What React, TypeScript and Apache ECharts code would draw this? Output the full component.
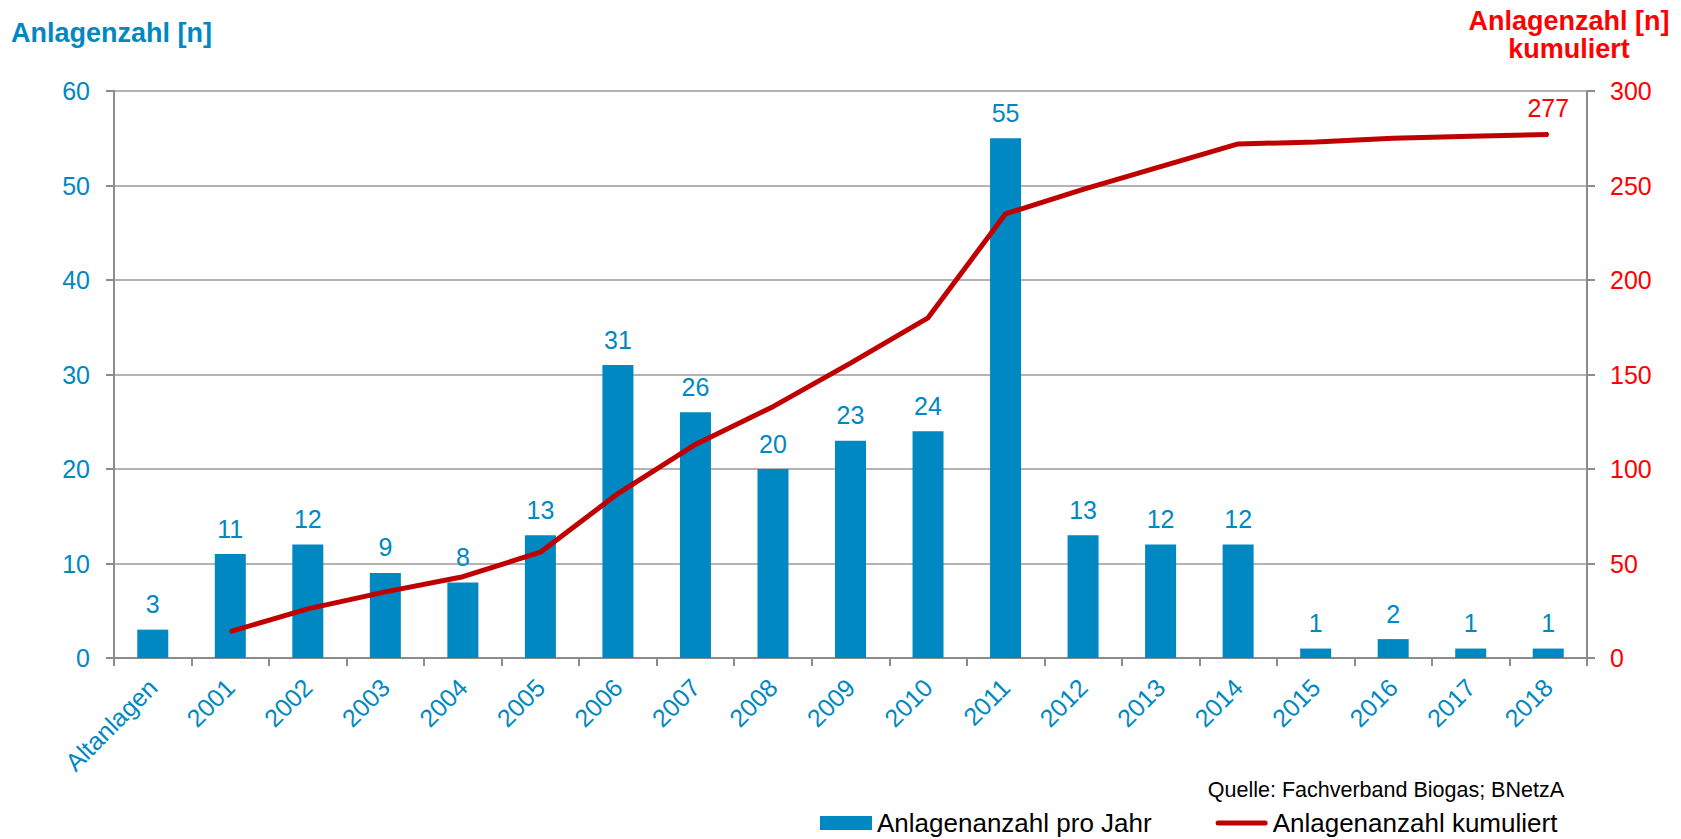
import React, { useEffect, useRef } from "react";
import * as echarts from "echarts";

const categories = [
  "Altanlagen", "2001", "2002", "2003", "2004", "2005", "2006", "2007", "2008", "2009",
  "2010", "2011", "2012", "2013", "2014", "2015", "2016", "2017", "2018",
];
const perYear = [3, 11, 12, 9, 8, 13, 31, 26, 20, 23, 24, 55, 13, 12, 12, 1, 2, 1, 1];
const cumulative: (number | null)[] = [
  null, 14, 26, 35, 43, 56, 87, 113, 133, 156, 180, 235, 248, 260, 272, 273, 275, 276, 277,
];
const leftTicks = { min: 0, max: 60, interval: 10 };
const rightTicks = { min: 0, max: 300, interval: 50 };
const seriesNames = ["Anlagenanzahl pro Jahr", "Anlagenanzahl kumuliert"];
const leftTitle = "Anlagenzahl [n]";
const rightTitle = ["Anlagenzahl [n]", "kumuliert"];
const sourceText = "Quelle: Fachverband Biogas; BNetzA";

const BLUE = "#0088C2";
const DARKRED = "#C00000";
const RED = "#FF0000";
const GRAY = "#8C8C8C";
const FONT = "Liberation Sans, Arial, sans-serif";

export default function App() {
  const ref = useRef<HTMLDivElement>(null);
  useEffect(() => {
    if (!ref.current) return;
    const chart = echarts.init(ref.current, null, { renderer: "svg" });
    const lastIdx = cumulative.length - 1;
    chart.setOption({
      animation: false,
      backgroundColor: "#fff",
      textStyle: { fontFamily: FONT },
      grid: { left: 114, right: 94, top: 91, bottom: 181, containLabel: false },
      legend: {
        left: 820,
        top: 810,
        padding: 0,
        itemGap: 64,
        itemWidth: 52,
        itemHeight: 14,
        symbolKeepAspect: true,
        textStyle: { fontSize: 26, color: "#000", fontFamily: FONT },
        data: [
          { name: seriesNames[0], icon: "rect" },
          { name: seriesNames[1], icon: "path://M2.5,0 L49.5,0 A2.5,2.5 0 0 1 49.5,5 L2.5,5 A2.5,2.5 0 0 1 2.5,0 Z" },
        ],
      },
      graphic: [
        {
          type: "text",
          left: 11,
          top: 19,
          style: { text: leftTitle, fill: BLUE, font: `bold 27px ${FONT}` },
        },
        {
          type: "text",
          x: 1569,
          y: 35,
          style: {
            text: rightTitle.join("\n"),
            fill: RED,
            font: `bold 27px ${FONT}`,
            align: "center",
            verticalAlign: "middle",
            lineHeight: 28,
          },
        },
        {
          type: "text",
          x: 1564,
          y: 790,
          style: {
            text: sourceText,
            fill: "#000",
            font: `21.5px ${FONT}`,
            align: "right",
            verticalAlign: "middle",
          },
        },
      ],
      xAxis: {
        type: "category",
        data: categories,
        boundaryGap: true,
        axisLine: { show: true, lineStyle: { color: GRAY, width: 2 } },
        axisTick: { show: true, length: 8, lineStyle: { color: GRAY, width: 2 } },
        axisLabel: {
          interval: 0,
          rotate: 45,
          margin: 25,
          color: BLUE,
          fontSize: 25,
          fontFamily: FONT,
        },
        splitLine: { show: false },
      },
      yAxis: [
        {
          type: "value",
          ...leftTicks,
          position: "left",
          axisLine: { show: true, lineStyle: { color: GRAY, width: 2 } },
          axisTick: { show: true, length: 8, lineStyle: { color: GRAY, width: 2 } },
          axisLabel: { color: BLUE, fontSize: 25, margin: 24, fontFamily: FONT },
          splitLine: { show: true, lineStyle: { color: "#9A9A9A", width: 1.5 } },
        },
        {
          type: "value",
          ...rightTicks,
          position: "right",
          axisLine: { show: true, lineStyle: { color: GRAY, width: 2 } },
          axisTick: { show: true, length: 8, lineStyle: { color: GRAY, width: 2 } },
          axisLabel: { color: RED, fontSize: 25, margin: 23, fontFamily: FONT },
          splitLine: { show: false },
        },
      ],
      series: [
        {
          name: seriesNames[0],
          type: "bar",
          data: perYear,
          barWidth: 31,
          itemStyle: { color: BLUE },
          label: {
            show: true,
            position: "top",
            distance: 13,
            color: BLUE,
            fontSize: 25,
            fontFamily: FONT,
          },
        },
        {
          name: seriesNames[1],
          type: "line",
          yAxisIndex: 1,
          data: cumulative.map((v, i) =>
            i === lastIdx
              ? {
                  value: v,
                  label: {
                    show: true,
                    position: "top",
                    distance: 13,
                    color: RED,
                    fontSize: 25,
                    fontFamily: FONT,
                  },
                }
              : v
          ),
          symbol: "circle",
          symbolSize: 2,
          showSymbol: true,
          showAllSymbol: true,
          lineStyle: { color: DARKRED, width: 5 },
          itemStyle: { color: DARKRED },
          z: 5,
        },
      ],
    });
    return () => chart.dispose();
  }, []);
  return (
    <div
      ref={ref}
      style={{ position: "fixed", left: 0, top: 0, width: 1681, height: 839 }}
    />
  );
}
